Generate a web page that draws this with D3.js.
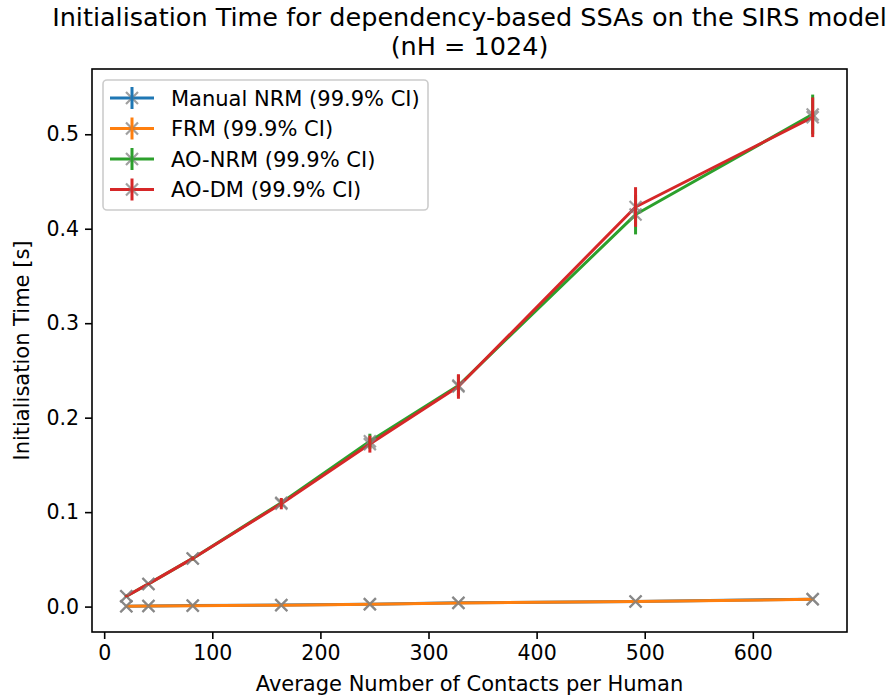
<!DOCTYPE html>
<html>
<head>
<meta charset="utf-8">
<script src="https://cdn.jsdelivr.net/npm/d3@7"></script>
<style>
  body { margin: 0; background: #fff; }
  svg { font-family: "DejaVu Sans", sans-serif; }
</style>
</head>
<body>
<div id="chart"></div>
<script>
// data
const contacts = [20.48, 40.96, 81.92, 163.84, 245.76, 327.68, 491.52, 655.36];
const manualNRM = [0.0004, 0.0007, 0.0011, 0.0016, 0.0026, 0.0040, 0.0054, 0.0079];
const manualNRMErr = [0.0001, 0.0001, 0.0001, 0.0001, 0.0002, 0.0002, 0.0003, 0.0003];
const frm = [0.0003, 0.0006, 0.0010, 0.0015, 0.0025, 0.0039, 0.0053, 0.0078];
const frmErr = [0.0001, 0.0001, 0.0001, 0.0001, 0.0002, 0.0002, 0.0003, 0.0003];
const aoNRM = [0.011, 0.024, 0.051, 0.110, 0.175, 0.234, 0.415, 0.521];
const aoNRMErr = [0.001, 0.001, 0.002, 0.004, 0.008, 0.011, 0.021, 0.021];
const aoDM = [0.011, 0.024, 0.051, 0.109, 0.172, 0.233, 0.423, 0.518];
const aoDMErr = [0.001, 0.001, 0.002, 0.006, 0.009, 0.013, 0.021, 0.021];
const xTicks = [0, 100, 200, 300, 400, 500, 600];
const yTicks = [0.0, 0.1, 0.2, 0.3, 0.4, 0.5];

const series = [
  { name: "Manual NRM (99.9% CI)", values: manualNRM, err: manualNRMErr, color: "#1f77b4" },
  { name: "FRM (99.9% CI)", values: frm, err: frmErr, color: "#ff7f0e" },
  { name: "AO-NRM (99.9% CI)", values: aoNRM, err: aoNRMErr, color: "#2ca02c" },
  { name: "AO-DM (99.9% CI)", values: aoDM, err: aoDMErr, color: "#d62728" }
];

const W = 888, H = 698;
const plot = { left: 92, right: 847, top: 69, bottom: 632 };
const fontSize = 21;
const tickFont = 20.5;

const svg = d3.select("#chart").append("svg")
  .attr("width", W)
  .attr("height", H);

// matplotlib style 5% margins
const xExt = d3.extent(contacts);
const xPad = (xExt[1] - xExt[0]) * 0.05;
const yMin = d3.min(series, s => d3.min(s.values, (v, i) => v - s.err[i]));
const yMax = d3.max(series, s => d3.max(s.values, (v, i) => v + s.err[i]));
const yPad = (yMax - yMin) * 0.05;

const x = d3.scaleLinear().domain([xExt[0] - xPad, xExt[1] + xPad]).range([plot.left, plot.right]);
const y = d3.scaleLinear().domain([yMin - yPad, yMax + yPad]).range([plot.bottom, plot.top]);

// axes
const xAxis = svg.append("g")
  .attr("transform", `translate(0, ${plot.bottom})`)
  .call(d3.axisBottom(x).tickValues(xTicks).tickSize(7).tickPadding(6).tickFormat(d3.format("d")));
const yAxis = svg.append("g")
  .attr("transform", `translate(${plot.left}, 0)`)
  .call(d3.axisLeft(y).tickValues(yTicks).tickSize(7).tickPadding(6).tickFormat(d3.format(".1f")));
[xAxis, yAxis].forEach(a => {
  a.select(".domain").remove();
  a.selectAll(".tick line").attr("stroke", "#000").attr("stroke-width", 1.6);
  a.selectAll(".tick text").attr("fill", "#000").style("font-size", tickFont + "px")
    .style("font-family", "DejaVu Sans");
});

svg.append("clipPath").attr("id", "clip")
  .append("rect")
  .attr("x", plot.left).attr("y", plot.top)
  .attr("width", plot.right - plot.left).attr("height", plot.bottom - plot.top);

const marks = svg.append("g").attr("clip-path", "url(#clip)");
const line = d3.line().x((d, i) => x(contacts[i])).y(d => y(d));
const ms = 6;

// lines and markers first (bars drawn above)
series.forEach(s => {
  marks.append("path")
    .datum(s.values)
    .attr("d", line)
    .attr("fill", "none")
    .attr("stroke", s.color)
    .attr("stroke-width", 3)
    .attr("stroke-linejoin", "round");
  marks.append("g").selectAll("path")
    .data(s.values)
    .join("path")
    .attr("d", (d, i) => {
      const cx = x(contacts[i]), cy = y(d);
      return `M${cx - ms},${cy - ms}L${cx + ms},${cy + ms}M${cx - ms},${cy + ms}L${cx + ms},${cy - ms}`;
    })
    .attr("stroke", "#808080")
    .attr("stroke-opacity", 0.75)
    .attr("stroke-width", 2.2)
    .attr("fill", "none");
});

// error bars
series.forEach(s => {
  marks.append("g").selectAll("line")
    .data(s.values)
    .join("line")
    .attr("x1", (d, i) => x(contacts[i]))
    .attr("x2", (d, i) => x(contacts[i]))
    .attr("y1", (d, i) => y(d - s.err[i]))
    .attr("y2", (d, i) => y(d + s.err[i]))
    .attr("stroke", s.color)
    .attr("stroke-width", 3);
});

// frame
svg.append("rect")
  .attr("x", plot.left).attr("y", plot.top)
  .attr("width", plot.right - plot.left).attr("height", plot.bottom - plot.top)
  .attr("fill", "none")
  .attr("stroke", "#000")
  .attr("stroke-width", 1.6);

// title
const cx = (plot.left + plot.right) / 2;
svg.append("text")
  .attr("x", cx).attr("y", 26)
  .attr("text-anchor", "middle")
  .style("font-size", "25.5px")
  .text("Initialisation Time for dependency-based SSAs on the SIRS model");
svg.append("text")
  .attr("x", cx).attr("y", 55)
  .attr("text-anchor", "middle")
  .style("font-size", "25.5px")
  .text("(nH = 1024)");

// axis labels
svg.append("text")
  .attr("x", cx).attr("y", 691)
  .attr("text-anchor", "middle")
  .style("font-size", fontSize + "px")
  .text("Average Number of Contacts per Human");
svg.append("text")
  .attr("transform", `translate(29, ${(plot.top + plot.bottom) / 2}) rotate(-90)`)
  .attr("text-anchor", "middle")
  .style("font-size", fontSize + "px")
  .text("Initialisation Time [s]");

// legend
const legend = svg.append("g");
legend.append("rect")
  .attr("x", 103).attr("y", 80)
  .attr("width", 325).attr("height", 130)
  .attr("rx", 4)
  .attr("fill", "#fff")
  .attr("fill-opacity", 0.8)
  .attr("stroke", "#cccccc")
  .attr("stroke-width", 1.6);

const items = legend.selectAll(".legend-item")
  .data(series)
  .join("g")
  .attr("class", "legend-item")
  .attr("transform", (d, i) => `translate(0, ${98 + i * 30.5})`);

items.append("line")
  .attr("x1", 110).attr("x2", 154)
  .attr("stroke", d => d.color)
  .attr("stroke-width", 3);
items.append("path")
  .attr("d", `M${132 - ms},${-ms}L${132 + ms},${ms}M${132 - ms},${ms}L${132 + ms},${-ms}`)
  .attr("stroke", "#808080")
  .attr("stroke-opacity", 0.75)
  .attr("stroke-width", 2.2);
items.append("line")
  .attr("x1", 132).attr("x2", 132)
  .attr("y1", -11).attr("y2", 11)
  .attr("stroke", d => d.color)
  .attr("stroke-width", 3);
items.append("text")
  .attr("x", 171)
  .attr("dy", "0.36em")
  .style("font-size", fontSize + "px")
  .text(d => d.name);
</script>
</body>
</html>
